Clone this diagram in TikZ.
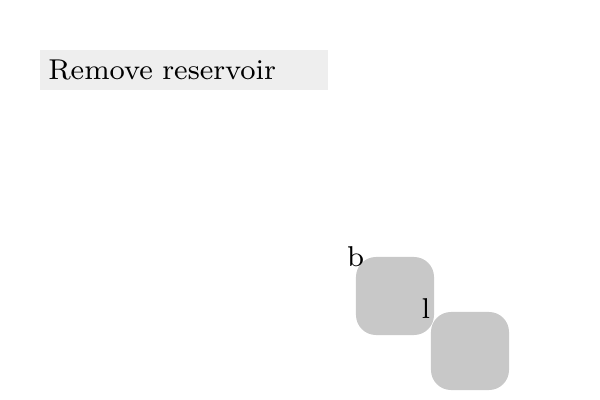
\documentclass[tikz,border=0pt]{standalone}
\usepackage{graphicx}
\newcommand{\bigtext}[1]{\scalebox{2.55}{#1}}
\begin{document}
\begin{tikzpicture}[x=0.025cm,y=-0.025cm,
  every node/.style={font=\fontsize{8}{9.6}\selectfont},
  title node/.style={fill=black!6.5,anchor=north west,minimum height=1cm,inner xsep=0.2cm,inner ysep=0pt,text width=6.8cm,align=left},
  part node/.style={fill=black!21.6,rounded corners=0.5cm,minimum size=1.95cm,inner sep=0pt}]
  \useasboundingbox (0,0) rectangle (600,400);
  \node[title node] (title) at (40,50) {\bigtext{Remove reservoir}};
  \node[part node] (b) at (395,296) {};
  \node[part node] (l) at (470,351) {};
  \node (b label) at (b.north west) {\bigtext{b}};
  \node[xshift=-0.12cm,yshift=0.07cm] (l label) at (l.north west) {\bigtext{l}};
\end{tikzpicture}
\end{document}
